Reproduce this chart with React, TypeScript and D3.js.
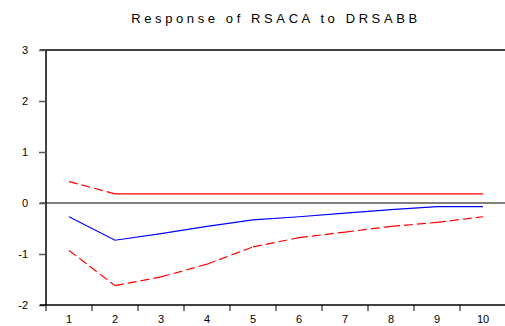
import { useEffect, useRef } from 'react';
import * as d3 from 'd3';

const periods = [1, 2, 3, 4, 5, 6, 7, 8, 9, 10];
const response = [-0.27, -0.73, -0.6, -0.46, -0.33, -0.27, -0.2, -0.13, -0.07, -0.07];
const upperBand = [0.42, 0.18, 0.18, 0.18, 0.18, 0.18, 0.18, 0.18, 0.18, 0.18];
const lowerBand = [-0.93, -1.62, -1.45, -1.2, -0.86, -0.68, -0.57, -0.46, -0.38, -0.27];
const yTicks = [-2, -1, 0, 1, 2, 3];

export default function App() {
    const svgRef = useRef<SVGSVGElement>(null);

    useEffect(() => {
        if (!svgRef.current) return;
        const width = 505;
        const height = 326;
        const svg = d3.select(svgRef.current);
        svg.selectAll('*').remove();
        svg.attr('width', width).attr('height', height);

        const left = 46;
        const right = 506;
        const top = 50;
        const bottom = 305;

        const x = d3.scaleBand<number>().domain(periods).range([left, right]);
        const y = d3.scaleLinear().domain([-2, 3]).range([bottom, top]);
        const cx = (p: number) => x(p)! + x.bandwidth() / 2;

        // Title
        svg.append('text')
            .attr('x', 276)
            .attr('y', 23)
            .attr('text-anchor', 'middle')
            .attr('font-family', 'Liberation Sans, Arial, sans-serif')
            .attr('font-size', 13)
            .attr('letter-spacing', 3.6)
            .text('Response of RSACA to DRSABB');

        // Frame: top line
        svg.append('line')
            .attr('x1', left - 6).attr('x2', width)
            .attr('y1', top).attr('y2', top)
            .attr('stroke', '#000').attr('stroke-width', 1.5);

        // Zero line
        svg.append('line')
            .attr('x1', left - 6).attr('x2', width)
            .attr('y1', y(0)).attr('y2', y(0))
            .attr('stroke', '#555').attr('stroke-width', 1.5);

        const yAxis = svg.append('g')
            .attr('transform', `translate(${left}, 0)`)
            .call(d3.axisLeft(y).tickValues(yTicks).tickSize(7).tickPadding(11).tickFormat((d) => String(d)));
        yAxis.select('.domain').attr('stroke-width', 1.5).attr('d', `M0,${top}V${bottom}`);
        yAxis.selectAll('line').attr('stroke', '#555').attr('stroke-width', 1.5);
        yAxis.selectAll('text')
            .attr('font-family', 'Liberation Sans, Arial, sans-serif')
            .attr('font-size', 11)
            .attr('fill', '#000');

        // Bottom axis with ticks at band edges
        const xAxis = svg.append('g').attr('transform', `translate(0, ${bottom})`);
        xAxis.append('line')
            .attr('x1', left - 6).attr('x2', width)
            .attr('stroke', '#000').attr('stroke-width', 1.5);
        xAxis.selectAll('.edge')
            .data(periods)
            .enter()
            .append('line')
            .attr('x1', (d) => x(d)!)
            .attr('x2', (d) => x(d)!)
            .attr('y1', 0).attr('y2', 6)
            .attr('stroke', '#000');
        xAxis.selectAll('.lbl')
            .data(periods)
            .enter()
            .append('text')
            .attr('x', (d) => cx(d))
            .attr('y', 18)
            .attr('text-anchor', 'middle')
            .attr('font-family', 'Liberation Sans, Arial, sans-serif')
            .attr('font-size', 11)
            .text((d) => d);

        const line = d3.line<number>()
            .x((_, i) => cx(periods[i]))
            .y((d) => y(d));

        // Bands: dashed segments, flat parts solid
        const drawBand = (vals: number[]) => {
            for (let i = 0; i < vals.length - 1; i++) {
                const flat = Math.abs(vals[i] - vals[i + 1]) < 1e-9;
                svg.append('path')
                    .attr('d', line([vals[i], vals[i + 1]]) ?? '')
                    .attr('transform', `translate(${cx(periods[i]) - cx(periods[0])}, 0)`)
                    .attr('fill', 'none')
                    .attr('stroke', '#ff0000')
                    .attr('stroke-width', 1.2)
                    .attr('stroke-dasharray', flat ? null : '9,4');
            }
        };
        drawBand(upperBand);
        drawBand(lowerBand);

        svg.append('path')
            .datum(response)
            .attr('d', line)
            .attr('fill', 'none')
            .attr('stroke', '#0000ff')
            .attr('stroke-width', 1.2);
    }, []);

    return (
        <svg
            ref={svgRef}
            style={{ position: 'absolute', left: 0, top: 0, background: '#fff' }}
        ></svg>
    );
}
